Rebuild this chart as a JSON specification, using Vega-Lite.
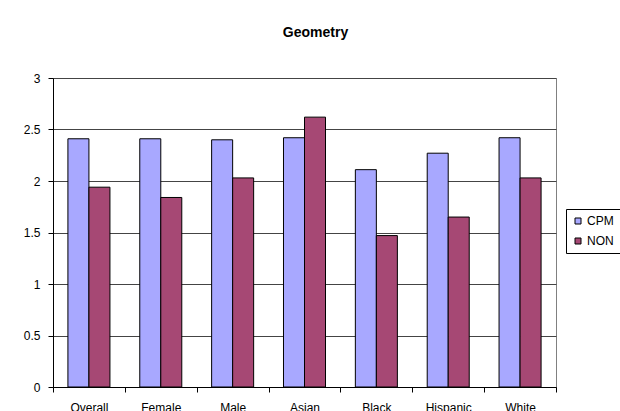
{
  "$schema": "https://vega.github.io/schema/vega-lite/v6.json",
  "width": 503,
  "height": 309,
  "autosize": {"type": "none"},
  "padding": {"left": 53, "top": 78, "right": 64, "bottom": 24},
  "background": "#ffffff",
  "title": {"text": "Geometry", "font": "Liberation Sans", "fontSize": 14, "fontWeight": "bold", "color": "#000", "anchor": "middle", "dx": 11, "offset": 32},
  "data": {"values": [
    {"group": "Overall", "series": "CPM", "value": 2.41},
    {"group": "Overall", "series": "NON", "value": 1.94},
    {"group": "Female", "series": "CPM", "value": 2.41},
    {"group": "Female", "series": "NON", "value": 1.84},
    {"group": "Male", "series": "CPM", "value": 2.40},
    {"group": "Male", "series": "NON", "value": 2.03},
    {"group": "Asian", "series": "CPM", "value": 2.42},
    {"group": "Asian", "series": "NON", "value": 2.62},
    {"group": "Black", "series": "CPM", "value": 2.11},
    {"group": "Black", "series": "NON", "value": 1.47},
    {"group": "Hispanic", "series": "CPM", "value": 2.27},
    {"group": "Hispanic", "series": "NON", "value": 1.65},
    {"group": "White", "series": "CPM", "value": 2.42},
    {"group": "White", "series": "NON", "value": 2.03}
  ]},
  "mark": {"type": "bar", "stroke": "#000000", "strokeWidth": 1},
  "encoding": {
    "x": {"field": "group", "type": "nominal", "sort": ["Overall", "Female", "Male", "Asian", "Black", "Hispanic", "White"],
      "scale": {"paddingInner": 0, "paddingOuter": 0},
      "axis": {"title": null, "labelAngle": 0, "tickBand": "extent", "domainColor": "#000", "tickColor": "#000", "tickSize": 5, "labelPadding": 10, "labelFont": "Liberation Sans", "labelFontSize": 12, "labelColor": "#000", "grid": false}},
    "xOffset": {"field": "series", "type": "nominal", "scale": {"paddingInner": 0, "paddingOuter": 0.71}},
    "y": {"field": "value", "type": "quantitative", "scale": {"domain": [0, 3]},
      "axis": {"title": null, "values": [0, 0.5, 1, 1.5, 2, 2.5, 3], "format": "~g", "domainColor": "#000", "tickColor": "#000", "tickSize": 5, "labelPadding": 8, "labelFont": "Liberation Sans", "labelFontSize": 12, "labelColor": "#000", "grid": true, "gridColor": "#444444", "gridWidth": 1}},
    "color": {"field": "series", "type": "nominal", "scale": {"domain": ["CPM", "NON"], "range": ["#A8A8FF", "#A64874"]},
      "legend": {"title": null, "orient": "none", "legendX": 513, "legendY": 131, "padding": 6, "strokeColor": "#000000", "symbolType": "square", "symbolSize": 36, "symbolStrokeColor": "#000", "symbolStrokeWidth": 1, "labelFont": "Liberation Sans", "labelFontSize": 12, "labelColor": "#000", "rowPadding": 8, "labelOffset": 3}}
  },
  "config": {
    "view": {"stroke": "#808080", "strokeWidth": 1}
  }
}
